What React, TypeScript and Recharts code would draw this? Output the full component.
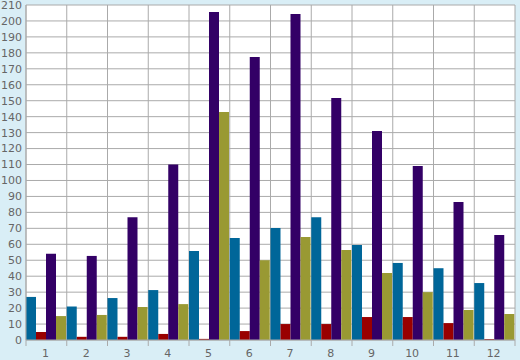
import { BarChart, Bar, XAxis, YAxis, CartesianGrid } from 'recharts';

const categories = ['1', '2', '3', '4', '5', '6', '7', '8', '9', '10', '11', '12'];
const tealValues = [27, 21, 26.3, 31.3, 55.8, 64, 70.2, 77, 59.6, 48.3, 45, 35.7];
const redValues = [5, 2, 2, 3.8, 0.7, 5.6, 10, 10, 14.4, 14.4, 10.6, 0.6];
const purpleValues = [54, 52.7, 77, 110, 205.6, 177.4, 204.4, 151.7, 131, 109, 86.5, 65.8];
const oliveValues = [15, 15.7, 20.7, 22.5, 143, 50, 64.6, 56.4, 42, 30, 18.8, 16.3];
const yTicks = Array.from({ length: 22 }, (_, i) => i * 10);

const data = categories.map((c, i) => ({
  name: c,
  teal: tealValues[i],
  red: redValues[i],
  purple: purpleValues[i],
  olive: oliveValues[i],
}));

const W = 520;
const H = 360;
const MARGIN = { top: 5, right: 5, left: 0, bottom: 0 };
const Y_W = 26;
const X_H = 20;
const PLOT_W = W - MARGIN.left - MARGIN.right - Y_W;
const PLOT_BOTTOM = H - MARGIN.bottom - X_H;
const BAND = PLOT_W / categories.length;
const GRID = '#aaaaaa';
const TEXT = '#666666';
const FONT = '"DejaVu Sans", Verdana, sans-serif';

function XTick(props: any) {
  const { x, payload, index } = props;
  const left = x - BAND / 2;
  return (
    <g>
      <line x1={left} x2={left} y1={PLOT_BOTTOM} y2={PLOT_BOTTOM + 6} stroke={GRID} />
      {index === categories.length - 1 && (
        <line x1={x + BAND / 2} x2={x + BAND / 2} y1={PLOT_BOTTOM} y2={PLOT_BOTTOM + 6} stroke={GRID} />
      )}
      <text x={x - 1} y={PLOT_BOTTOM + 17} textAnchor="middle" fontSize={11} fill={TEXT} fontFamily={FONT}>
        {payload.value}
      </text>
    </g>
  );
}

export default function App() {
  return (
    <div style={{ position: 'absolute', left: 0, top: 0, width: W, height: H, background: '#d9eef6' }}>
      <BarChart width={W} height={H} data={data} margin={MARGIN} barCategoryGap={0} barGap={0}>
        <CartesianGrid
          stroke={GRID}
          fill="#ffffff"
          verticalCoordinatesGenerator={({ offset }: any) =>
            Array.from({ length: categories.length + 1 }, (_, i) => offset.left + (i * offset.width) / categories.length)
          }
        />
        <XAxis
          dataKey="name"
          height={X_H}
          axisLine={{ stroke: GRID }}
          tickLine={false}
          tick={<XTick />}
          interval={0}
        />
        <YAxis
          width={Y_W}
          domain={[0, 210]}
          ticks={yTicks}
          interval={0}
          axisLine={{ stroke: GRID }}
          tickLine={false}
          tickSize={2}
          tickMargin={2}
          tick={{ fontSize: 11, fill: TEXT, fontFamily: FONT }}
        />
        <Bar dataKey="teal" fill="#006699" isAnimationActive={false} />
        <Bar dataKey="red" fill="#990000" isAnimationActive={false} />
        <Bar dataKey="purple" fill="#330066" isAnimationActive={false} />
        <Bar dataKey="olive" fill="#999933" isAnimationActive={false} />
      </BarChart>
    </div>
  );
}
